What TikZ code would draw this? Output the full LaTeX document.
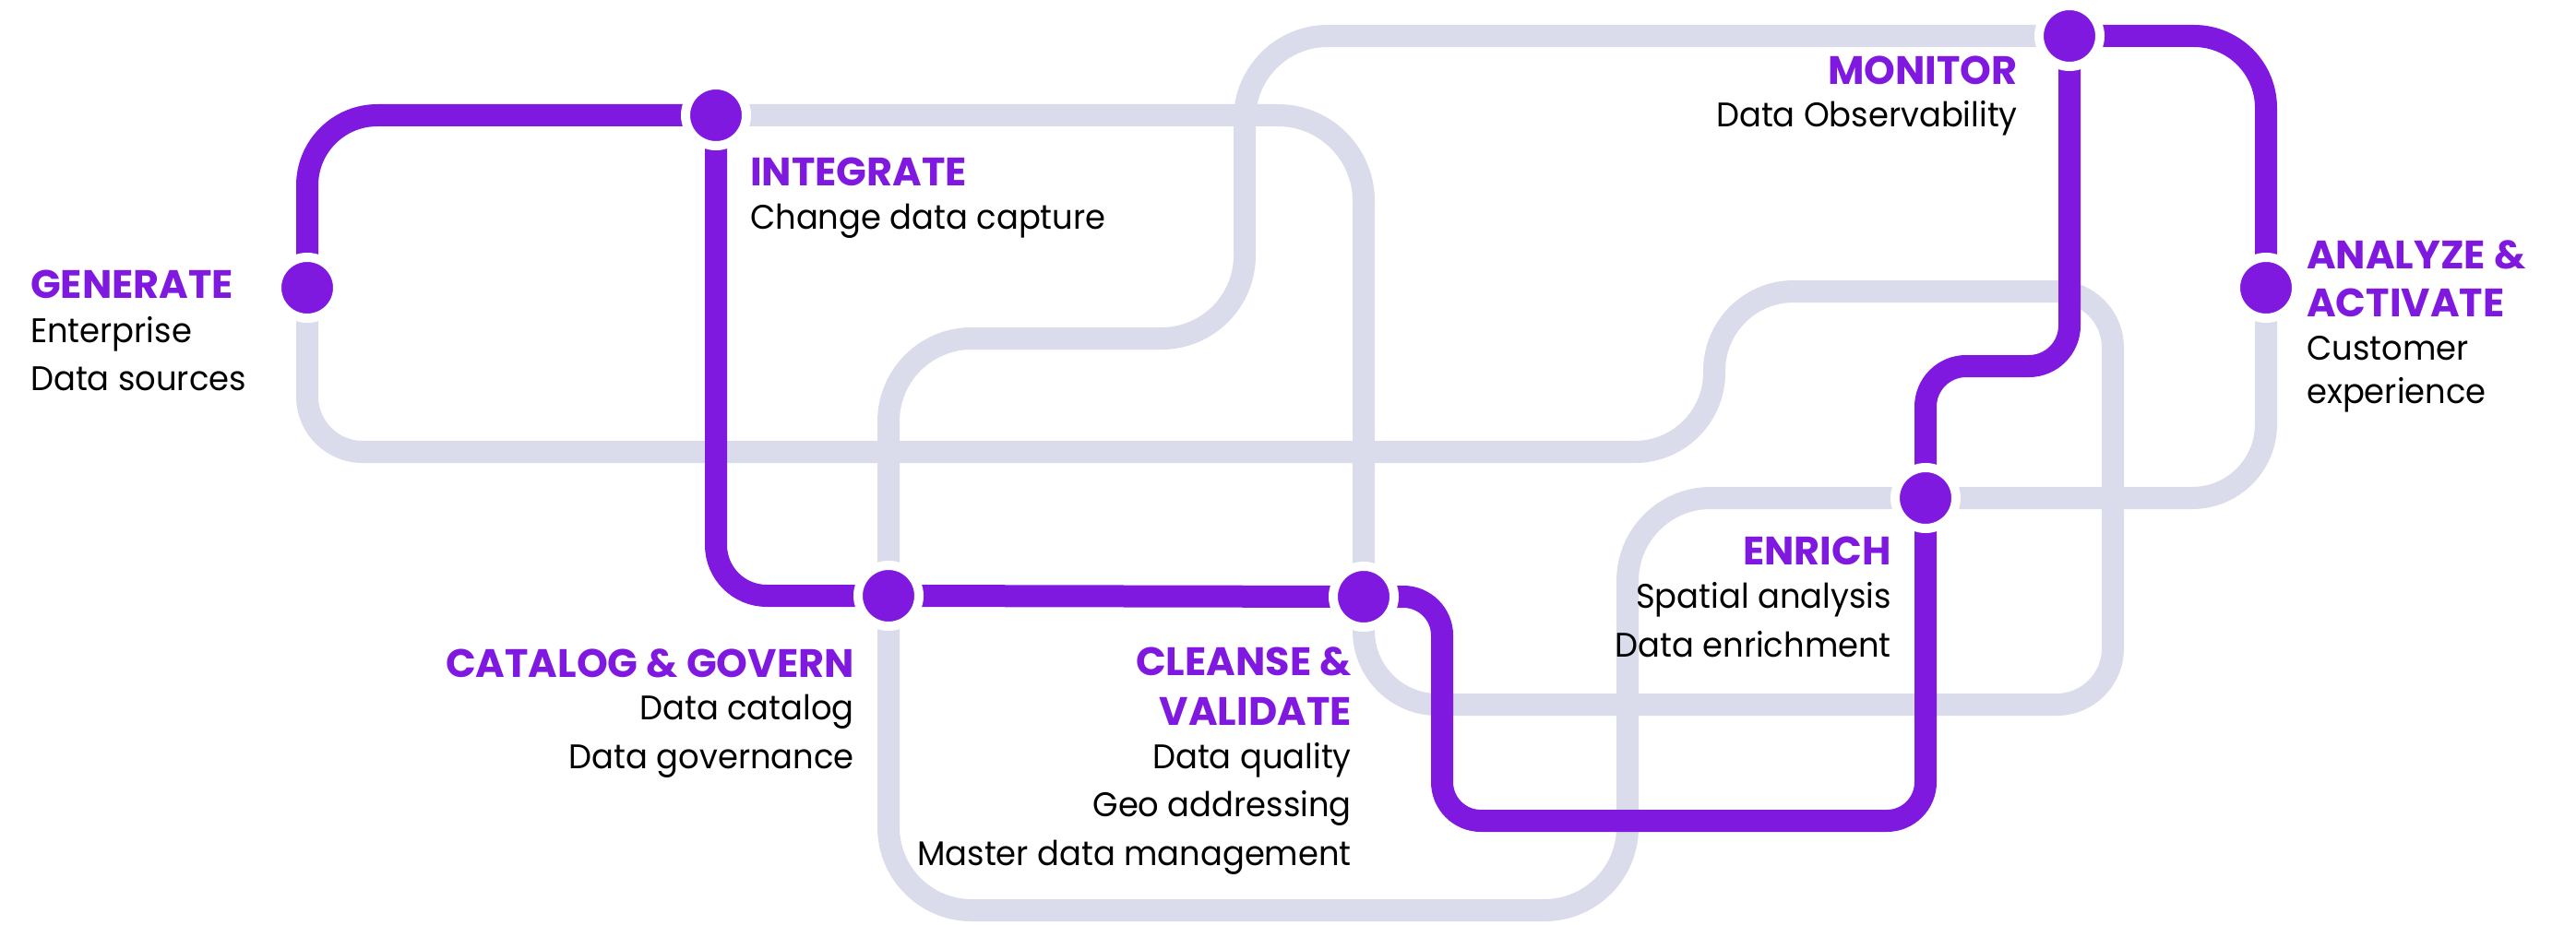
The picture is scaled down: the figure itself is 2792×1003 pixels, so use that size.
\documentclass[tikz,border=0pt]{standalone}
\usepackage{fontspec}
\setmainfont{Poppins}
\newfontfamily\bodyfont{Poppins}[FakeStretch=0.955]
\usetikzlibrary{backgrounds}
\definecolor{vpurple}{RGB}{128,25,224}
\definecolor{vgrey}{RGB}{218,219,235}
\begin{document}
\begin{tikzpicture}[x=1pt,y=-1pt,
  dot/.style={circle, fill=vpurple, draw=white, line width=10pt, minimum size=66pt, inner sep=0pt},
  greyline/.style={draw=vgrey, line width=24pt},
  purpleline/.style={draw=vpurple, line width=24pt},
  head/.style={text=vpurple, font=\bfseries\fontsize{43}{50}\selectfont, inner sep=0pt},
  body/.style={text=black, font=\bodyfont\fontsize{37}{44}\selectfont, inner sep=0pt},
]
\useasboundingbox (0,0) rectangle (2792,1003);

% stations
\node[dot] (gen) at (333,312) {};
\node[dot] (int) at (776,125) {};
\node[dot] (cat) at (963,646) {};
\node[dot] (cle) at (1478,647) {};
\node[dot] (enr) at (2087,540) {};
\node[dot] (mon) at (2243,39) {};
\node[dot] (ana) at (2456,312) {};

% split points on straight segments
\coordinate (a1) at (1100,490);
\coordinate (a2) at (2050,316);
\coordinate (a3) at (1900,764);

\begin{scope}[on background layer]
  % grey lines
  \draw[greyline, rounded corners=60pt] (gen.center) -- (333,490) -- (a1);
  \draw[greyline, rounded corners=86pt] (a1) -- (1858,490) -- (1858,316) -- (a2);
  \draw[greyline, rounded corners=61pt] (a2) -- (2290,316) -- (2290,764) -- (a3);
  \draw[greyline, rounded corners=80pt] (a3) -- (1478,764) -- (cle.center);
  \draw[greyline, rounded corners=93pt] (int.center) -- (1478,125) -- (cle.center);
  \draw[greyline, rounded corners=90pt] (mon.center) -- (1349,39) -- (1349,367) -- (963,367) -- (cat.center);
  \draw[greyline, rounded corners=90pt] (cat.center) -- (963,987) -- (1764,987) -- (1764,540) -- (enr.center);
  \draw[greyline, rounded corners=80pt] (enr.center) -- (2456,540) -- (ana.center);
  % purple line
  \draw[purpleline, rounded corners=76pt] (gen.center) -- (333,125) -- (int.center);
  \draw[purpleline, rounded corners=55pt] (int.center) -- (776,646) -- (cat.center);
  \draw[purpleline] (cat.center) -- (cle.center);
  \draw[purpleline, rounded corners=42pt] (cle.center) -- (1563,647) -- (1563,890) -- (2087,890) -- (enr.center);
  \draw[purpleline, rounded corners=44pt] (enr.center) -- (2087,397) -- (2243,397) -- (mon.center);
  \draw[purpleline, rounded corners=78pt] (mon.center) -- (2456,39) -- (ana.center);
\end{scope}

% labels
\node[head, anchor=base west] (genh) at (33,323) {GENERATE};
\node[body, anchor=base west] (genb1) at (33,371) {Enterprise};
\node[body, anchor=base west] (genb2) at (33,423) {Data sources};

\node[head, anchor=base west] (inth) at (813,202) {INTEGRATE};
\node[body, anchor=base west] (intb1) at (813,248) {Change data capture};

\node[head, anchor=base east] (monh) at (2187,92) {MONITOR};
\node[body, anchor=base east] (monb1) at (2187,138) {Data Observability};

\node[head, anchor=base west] (anah1) at (2500,291) {ANALYZE \&};
\node[head, anchor=base west] (anah2) at (2500,343) {ACTIVATE};
\node[body, anchor=base west] (anab1) at (2500,390) {Customer};
\node[body, anchor=base west] (anab2) at (2500,437) {experience};

\node[head, anchor=base east] (enrh) at (2050,612) {ENRICH};
\node[body, anchor=base east] (enrb1) at (2050,659) {Spatial analysis};
\node[body, anchor=base east] (enrb2) at (2050,712) {Data enrichment};

\node[head, anchor=base east] (cath) at (926,734) {CATALOG \& GOVERN};
\node[body, anchor=base east] (catb1) at (926,780) {Data catalog};
\node[body, anchor=base east] (catb2) at (926,833) {Data governance};

\node[head, anchor=base east] (cleh1) at (1465,732) {CLEANSE \&};
\node[head, anchor=base east] (cleh2) at (1465,786) {VALIDATE};
\node[body, anchor=base east] (cleb1) at (1465,833) {Data quality};
\node[body, anchor=base east] (cleb2) at (1465,885) {Geo addressing};
\node[body, anchor=base east] (cleb3) at (1465,938) {Master data management};
\end{tikzpicture}
\end{document}
